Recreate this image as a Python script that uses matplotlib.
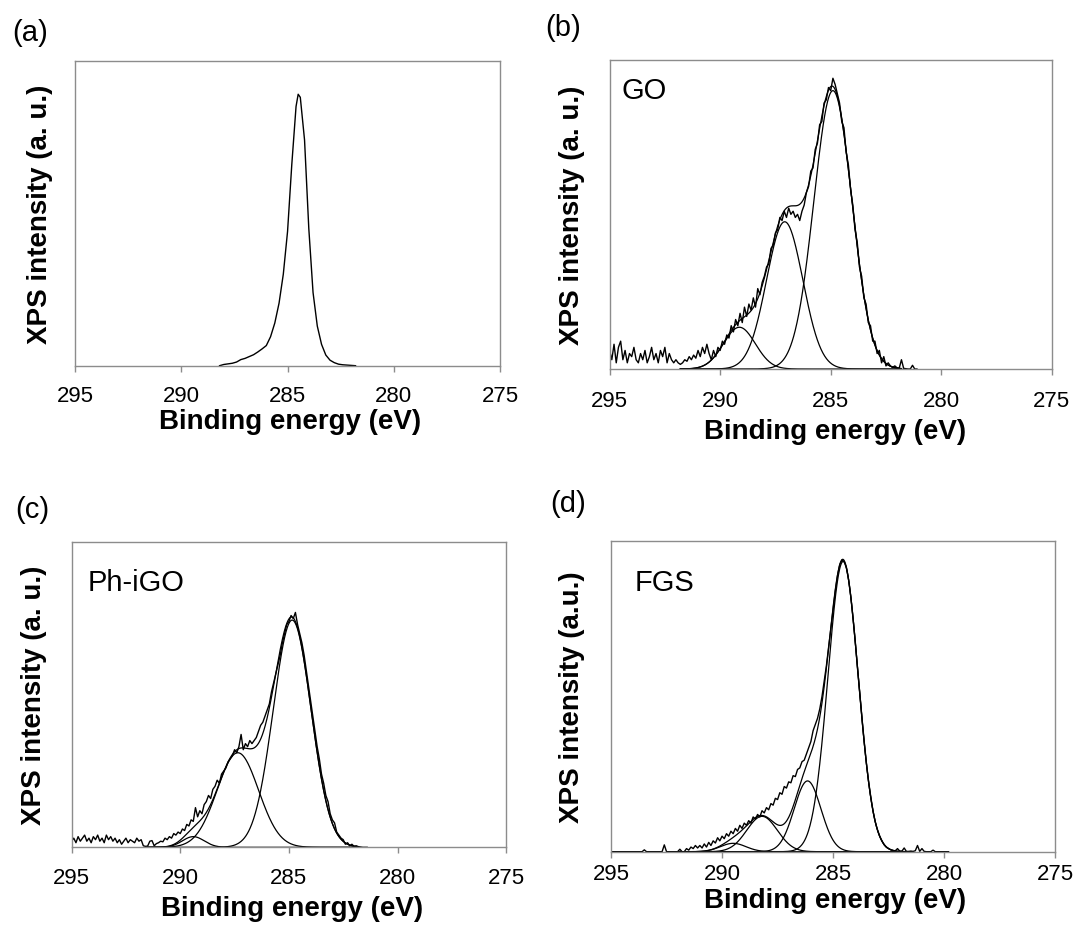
import numpy as np
import matplotlib
matplotlib.use("Agg")
import matplotlib.pyplot as plt

plt.rcParams['font.family'] = ['Liberation Sans', 'DejaVu Sans']

# binding energy axis (eV), drawn reversed
be_ticks = [295, 290, 285, 280, 275]

# (a) single C1s peak
a_energy = [288.2, 288.0, 287.8, 287.6, 287.4, 287.2, 287.0, 286.8, 286.6, 286.4,
            286.2, 286.0, 285.8, 285.6, 285.4, 285.2, 285.0, 284.8, 284.6, 284.5,
            284.4, 284.2, 284.0, 283.8, 283.6, 283.4, 283.2, 283.0, 282.8, 282.6,
            282.4, 282.2, 282.0, 281.8]
a_counts = [0.000, 0.004, 0.006, 0.008, 0.012, 0.020, 0.024, 0.030, 0.036, 0.045,
            0.055, 0.066, 0.095, 0.140, 0.205, 0.300, 0.440, 0.660, 0.850, 0.890,
            0.880, 0.740, 0.450, 0.240, 0.130, 0.070, 0.035, 0.018, 0.010, 0.005,
            0.003, 0.002, 0.001, 0.000]

# measured spectra below are on a 0.1 eV grid starting at 295.0 eV
# (b) GO
go_counts = [
    .06, .03, .08, .02, .07, .09, .03, .06, .02, .05,
    .04, .07, .03, .02, .05, .03, .06, .02, .04, .07,
    .03, .05, .02, .06, .04, .07, .02, .05, .03, .02,
    .03, .02, .015, .02, .03, .025, .04, .03, .045, .035,
    .06, .04, .07, .05, .08, .05, .03, .06, .04, .07,
    .06, .09, .08, .11, .10, .14, .12, .16, .14, .18,
    .15, .20, .17, .21, .19, .23, .20, .26, .24, .28,
    .30, .33, .34, .39, .40, .44, .45, .49, .48, .51,
    .49, .52, .50, .51, .49, .50, .48, .51, .53, .57,
    .59, .64, .65, .71, .73, .79, .80, .86, .87, .91,
    .90, .94, .92, .89, .86, .80, .78, .70, .66, .58,
    .53, .45, .41, .33, .30, .23, .21, .15, .14, .09,
    .09, .05, .06, .02, .04, .01, .02, .01, .005, .01,
    .004, .003, .03, .002, .001, 0, 0, .012, 0, 0]
go_centers = [284.9, 287.08, 289.13]
go_heights = [0.90, 0.476, 0.135]
go_fwhm = [2.02, 1.93, 1.70]

# (c) Ph-iGO
ph_counts = [
    .02, .03, .015, .035, .02, .03, .04, .02, .03, .015,
    .035, .025, .04, .02, .03, .015, .04, .025, .035, .02,
    .03, .015, .025, .01, .02, .03, .015, .025, .02, .015,
    .03, .02, .025, .005, .003, .004, .02, .022, .005, .012,
    .015, .02, .018, .03, .025, .035, .03, .045, .04, .05,
    .045, .06, .055, .075, .07, .09, .085, .13, .10, .12,
    .11, .14, .15, .17, .16, .19, .20, .22, .21, .24,
    .25, .26, .28, .29, .30, .32, .31, .33, .37, .32,
    .34, .33, .35, .34, .35, .36, .38, .40, .41, .43,
    .45, .47, .51, .54, .57, .60, .63, .67, .70, .73,
    .74, .76, .75, .77, .73, .70, .67, .63, .58, .53,
    .48, .43, .38, .33, .29, .24, .21, .17, .15, .11,
    .09, .08, .05, .04, .03, .025, .01, .015, .005, .01,
    .003, .005, .002, .001, 0, 0, 0]
ph_centers = [284.85, 287.35, 289.4]
ph_heights = [0.745, 0.31, 0.035]
ph_fwhm = [2.05, 2.24, 1.18]

# (d) FGS
fgs_counts = [
    0, 0, 0, 0, 0, 0, 0, 0, 0, 0,
    0, 0, 0, 0, 0, .006, 0, 0, 0, 0,
    0, 0, 0, 0, .022, 0, 0, 0, 0, 0,
    0, .008, 0, 0, .01, .005, .015, .01, .02, .012,
    .02, .012, .025, .015, .03, .02, .035, .028, .045, .035,
    .05, .042, .058, .05, .066, .058, .075, .066, .085, .075,
    .092, .085, .10, .092, .112, .105, .12, .112, .132, .125,
    .142, .135, .155, .15, .172, .168, .19, .185, .21, .205,
    .225, .222, .245, .242, .265, .27, .29, .295, .315, .335,
    .355, .39, .41, .43, .46, .50, .55, .60, .66, .72,
    .78, .84, .89, .925, .94, .935, .915, .875, .82, .75,
    .675, .59, .51, .43, .355, .285, .225, .175, .13, .095,
    .07, .05, .035, .022, .014, .01, .006, .004, .003, .01,
    .002, .002, .012, .001, .001, .002, .001, .003, .02, .001,
    .01, .001, 0, 0, 0, .005, 0, 0, 0, 0,
    0, 0, 0]
fgs_centers = [284.55, 286.15, 288.2, 289.5]
fgs_heights = [0.935, 0.228, 0.114, 0.027]
fgs_fwhm = [1.60, 1.42, 1.62, 1.35]

SPINE = '#8c8c8c'
W, H = 1078, 928


def grid(counts, start=295.0):
    return np.round(start - 0.1 * np.arange(len(counts)), 1)


def gauss(x, c, h, fwhm):
    s = fwhm / 2.3548
    return h * np.exp(-(x - c) ** 2 / (2 * s * s))


def make_axes(fig, left, top, right, bottom):
    ax = fig.add_axes([left / W, 1 - bottom / H, (right - left) / W, (bottom - top) / H])
    ax.set_xlim(295, 275)
    ax.set_ylim(0, 1)
    ax.set_xticks(be_ticks)
    ax.set_yticks([])
    for sp in ax.spines.values():
        sp.set_color(SPINE)
        sp.set_linewidth(1.0)
    return ax


def style(ax, ylab, ylab_x, xlab_y, xlab_x, pad):
    ax.tick_params(axis='x', direction='out', length=4, width=1, color=SPINE,
                   labelsize=16, pad=pad)
    ax.set_xlabel('Binding energy (eV)', fontsize=20, fontweight='bold', va='center')
    ax.xaxis.set_label_coords(xlab_x, xlab_y)
    ax.set_ylabel(ylab, fontsize=20, fontweight='bold', va='center')
    ax.yaxis.set_label_coords(ylab_x, 0.5)


def draw_fit(ax, centers, heights, fwhm, lo, hi):
    xs = np.linspace(hi, lo, 600)
    total = np.zeros_like(xs)
    for c, h, w in zip(centers, heights, fwhm):
        comp = gauss(xs, c, h, w)
        total += comp
        ax.plot(xs, comp, color='black', lw=0.9)
    ax.plot(xs, total, color='black', lw=0.9)


fig = plt.figure(figsize=(W / 100, H / 100), dpi=100)

# (a)
ax = make_axes(fig, 75.1, 61.7, 500.0, 366.7)
ax.plot(a_energy, a_counts, color='black', lw=1.0)
style(ax, 'XPS intensity (a. u.)', -0.0835, -0.181, 0.505, 10)

# (b)
ax = make_axes(fig, 609.6, 60.7, 1051.8, 370.0)
draw_fit(ax, go_centers, go_heights, go_fwhm, 281.8, 291.8)
ax.plot(grid(go_counts), go_counts, color='black', lw=1.0)
ax.text(0.027, 0.902, 'GO', transform=ax.transAxes, fontsize=21, va='center')
style(ax, 'XPS intensity (a. u.)', -0.084, -0.20, 0.51, 11)

# (c)
ax = make_axes(fig, 71.6, 543.3, 506.2, 848.3)
draw_fit(ax, ph_centers, ph_heights, ph_fwhm, 281.8, 291.5)
ax.plot(grid(ph_counts), ph_counts, color='black', lw=1.0)
ax.text(0.037, 0.87, 'Ph-iGO', transform=ax.transAxes, fontsize=21, va='center')
style(ax, 'XPS intensity (a. u.)', -0.0856, -0.199, 0.507, 10)

# (d)
ax = make_axes(fig, 611.0, 542.3, 1055.2, 852.7)
draw_fit(ax, fgs_centers, fgs_heights, fgs_fwhm, 281.5, 292.0)
ax.plot(grid(fgs_counts), fgs_counts, color='black', lw=1.0)
ax.text(0.053, 0.868, 'FGS', transform=ax.transAxes, fontsize=21, va='center')
style(ax, 'XPS intensity (a.u.)', -0.0887, -0.156, 0.505, 4)

# panel letters
for lab, px, py in [('(a)', 12, 33), ('(b)', 545, 28), ('(c)', 15, 510), ('(d)', 550, 504)]:
    fig.text(px / W, 1 - py / H, lab, fontsize=21, va='center', ha='left')

fig.savefig('out.png', dpi=100)
